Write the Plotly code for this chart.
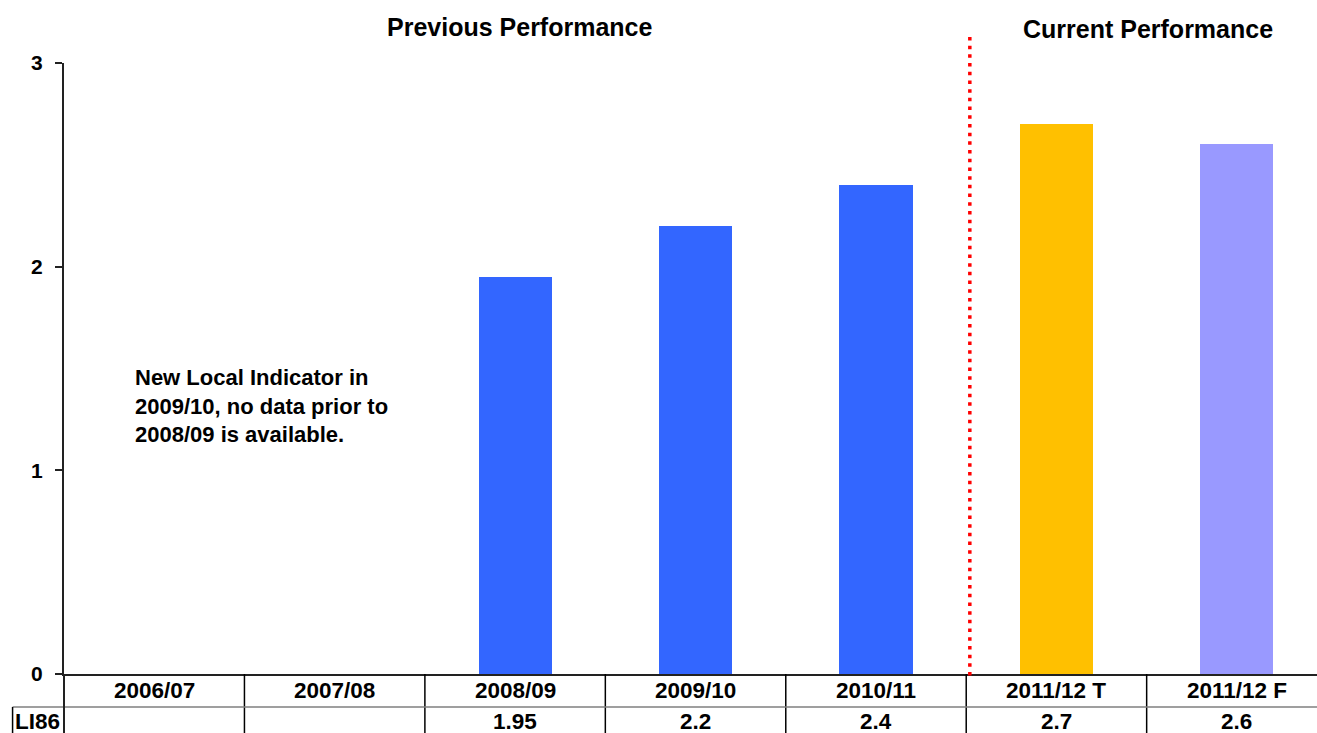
import plotly.graph_objects as go

# Indicator LI86 by year
categories = ["2006/07", "2007/08", "2008/09", "2009/10", "2010/11", "2011/12 T", "2011/12 F"]
values = [None, None, 1.95, 2.2, 2.4, 2.7, 2.6]
bar_colors = ["#3366FF", "#3366FF", "#3366FF", "#3366FF", "#3366FF", "#FFC000", "#9999FF"]
row_label = "LI86"
y_ticks = [0, 1, 2, 3]
note_text = "New Local Indicator in<br>2009/10, no data prior to<br>2008/09 is available."
section_titles = ["Previous Performance", "Current Performance"]

FONT = "Arial, Liberation Sans, sans-serif"
X_RANGE = [-0.5, 6.444]


def xpaper(x):
    """Convert a category-axis position to paper coordinates."""
    return (x - X_RANGE[0]) / (X_RANGE[1] - X_RANGE[0])


fig = go.Figure()
fig.add_trace(go.Bar(
    x=categories,
    y=[v if v is not None else 0 for v in values],
    marker=dict(color=bar_colors, line=dict(width=0)),
    width=0.405,
    hoverinfo="skip",
))

shapes = []
annotations = []

# data table below the plot: top row of categories, second row of values
row1_bottom = -0.054
table_bottom = -0.10
grid = dict(color="#000000", width=1.5)
for i in range(len(categories)):
    xb = i + 0.5
    shapes.append(dict(type="line", xref="paper", yref="paper",
                       x0=xpaper(xb), x1=xpaper(xb), y0=0, y1=table_bottom, line=grid))
# row separator and row-header cell
shapes.append(dict(type="line", xref="paper", yref="paper",
                   x0=xpaper(-0.785), x1=1.0, y0=row1_bottom, y1=row1_bottom,
                   line=dict(color="#7f7f7f", width=1.5)))
shapes.append(dict(type="line", xref="paper", yref="paper",
                   x0=xpaper(-0.785), x1=xpaper(-0.785), y0=row1_bottom, y1=table_bottom,
                   line=grid))
# y-axis line continued through the table
shapes.append(dict(type="line", xref="paper", yref="paper",
                   x0=0, x1=0, y0=0, y1=table_bottom, line=dict(color="#222222", width=2)))

# divider between previous and current performance
shapes.append(dict(type="line", xref="paper", yref="paper",
                   x0=xpaper(4.52), x1=xpaper(4.52), y0=1.0426, y1=-0.0098,
                   line=dict(color="#FF0000", width=3.5, dash="3.5px,5.2px")))

TABLE_FONT = dict(family=FONT, size=22.5, color="#000000", weight="bold")
for i, cat in enumerate(categories):
    annotations.append(dict(x=xpaper(i), y=-0.027, xref="paper", yref="paper",
                            text=cat, showarrow=False, xanchor="center", yanchor="middle",
                            font=TABLE_FONT))
    if values[i] is not None:
        annotations.append(dict(x=xpaper(i), y=-0.077, xref="paper", yref="paper",
                                text=f"{values[i]:g}", showarrow=False,
                                xanchor="center", yanchor="middle",
                                font=TABLE_FONT))

annotations.append(dict(x=xpaper(-0.785), y=-0.077, xref="paper", yref="paper",
                        text=row_label, showarrow=False, xanchor="left", yanchor="middle",
                        font=TABLE_FONT))

TITLE_FONT = dict(family=FONT, size=25, color="#000000", weight="bold")
annotations.append(dict(x=xpaper(2.025), y=1.059, xref="paper", yref="paper",
                        text=section_titles[0], showarrow=False, xanchor="center", yanchor="middle",
                        font=TITLE_FONT))
annotations.append(dict(x=xpaper(5.505), y=1.0556, xref="paper", yref="paper",
                        text=section_titles[1], showarrow=False, xanchor="center", yanchor="middle",
                        font=TITLE_FONT))

annotations.append(dict(x=xpaper(-0.117), y=1.316, xref="paper", yref="y",
                        text=note_text, showarrow=False, xanchor="left", yanchor="middle",
                        align="left",
                        font=dict(family=FONT, size=22, color="#000000", weight="bold")))

fig.update_layout(
    width=1317, height=733,
    margin=dict(l=64, r=0, t=63, b=59),
    paper_bgcolor="#FFFFFF", plot_bgcolor="#FFFFFF",
    showlegend=False,
    bargap=0,
    shapes=shapes,
    annotations=annotations,
    xaxis=dict(range=X_RANGE, showticklabels=False, ticks="", showgrid=False,
               zeroline=False, showline=True, linecolor="#222222", linewidth=2,
               fixedrange=True),
    yaxis=dict(range=[0, 3], tickvals=y_ticks, ticks="outside", ticklen=7,
               tickwidth=1.5, tickcolor="#222222", showgrid=False, zeroline=False,
               showline=True, linecolor="#222222", linewidth=2, ticklabelstandoff=8,
               tickfont=dict(family=FONT, size=21, color="#000000", weight="bold"),
               fixedrange=True),
)

fig.write_html("out.html")
